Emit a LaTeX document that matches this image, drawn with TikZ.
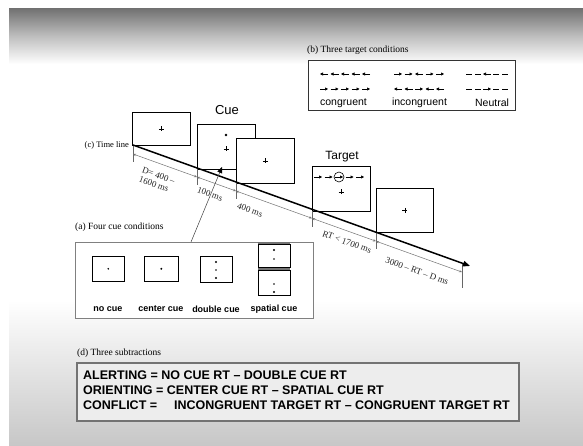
\documentclass[tikz,border=0pt]{standalone}
\usepackage{fontspec}
\setmainfont{Liberation Serif}
\newfontfamily\arialf{Liberation Sans}
\usetikzlibrary{arrows.meta}
\begin{document}
\begin{tikzpicture}[x=1pt,y=-1pt,
  frame/.style={draw=black,line width=0.6pt,fill=white,inner sep=0pt,anchor=north west},
  pl/.style={line width=0.5pt},
  dimline/.style={draw=black!55,line width=0.5pt,{Stealth[length=3pt,width=2.4pt]}-{Stealth[length=3pt,width=2.4pt]}},
  tickline/.style={draw=black!60,line width=0.5pt},
  dimlab/.style={font=\fontsize{9}{9.5}\selectfont,rotate=-19.75,text=black!85,align=left,inner sep=0pt},
  capt/.style={font=\fontsize{9.5}{10}\selectfont,anchor=west,inner sep=0pt},
  stim/.style={line width=0.6pt,-{Triangle[length=3pt,width=3pt]}},
  condlab/.style={font=\arialf\bfseries\fontsize{9}{10}\selectfont,inner sep=0pt},
  tgtlab/.style={font=\arialf\fontsize{10.5}{12}\selectfont,inner sep=0pt},
  subline/.style={font=\arialf\bfseries\fontsize{12.5}{14}\selectfont,anchor=west,inner sep=0pt},
  bigl/.style={font=\arialf\fontsize{13}{14}\selectfont,inner sep=0pt}]
\useasboundingbox (0,0) rectangle (583,446);
% background
\fill[white] (0,0) rectangle (583,446);
\shade[top color=black!55, bottom color=white, middle color=black!25] (9,9) rectangle (583,64);
\shade[top color=white, bottom color=black!22] (9,300) rectangle (583,446);

% (b) three target conditions
\node[capt] (capb) at (307,50) {(b) Three target conditions};
\node[draw=black!80,line width=0.6pt,fill=white,inner sep=0pt,anchor=north west,
      minimum width=207pt,minimum height=50pt] (boxb) at (308,60) {};
% congruent
\foreach \x in {324,334.5,345,355.5,366}{
  \draw[stim] ({\x+4},74) -- ({\x-4},74);
  \draw[stim] ({\x-4},89) -- ({\x+4},89);}
% incongruent
\foreach \x/\d in {398/1,408.5/1,419/-1,429.5/1,440/1}{
  \draw[stim] ({\x-4*\d},74) -- ({\x+4*\d},74);
  \draw[stim] ({\x+4*\d},89) -- ({\x-4*\d},89);}
% neutral
\foreach \x in {469,478,496,505}{
  \draw[line width=0.6pt] ({\x-3},74) -- ({\x+3},74);
  \draw[line width=0.6pt] ({\x-3},89) -- ({\x+3},89);}
\draw[stim] (491,74) -- (483,74);
\draw[stim] (483,89) -- (491,89);
\node[tgtlab] (lcon) at (343.5,103) {congruent};
\node[tgtlab] (linc) at (419.5,103) {incongruent};
\node[tgtlab] (lneu) at (492,103) {Neutral};

% time line frames
\node[frame,minimum width=58pt,minimum height=33pt] (f1) at (132,112) {};
\draw[pl] (f1.center) +(-2.5,0) -- +(2.5,0) +(0,-2.5) -- +(0,2.5);
\node[frame,minimum width=58pt,minimum height=45pt] (cue) at (197,124) {};
\fill (226,135) circle (1.4);
\draw[pl] (226,149) +(-2.5,0) -- +(2.5,0) +(0,-2.5) -- +(0,2.5);
\node[frame,minimum width=58pt,minimum height=45pt] (f3) at (236,138) {};
\draw[pl] (f3.center) +(-2.5,0) -- +(2.5,0) +(0,-2.5) -- +(0,2.5);
\node[frame,minimum width=58pt,minimum height=45pt] (tgt) at (312,166) {};
\draw[pl] (341,192) +(-2.5,0) -- +(2.5,0) +(0,-2.5) -- +(0,2.5);
\draw[line width=0.6pt] (339,177) circle (5);
\foreach \x in {318,328.5,339,349.5,360}{
  \draw[stim] ({\x-4},177) -- ({\x+4},177);}
\node[frame,minimum width=57pt,minimum height=44pt] (f5) at (376,188) {};
\draw[pl] (f5.center) +(-2.5,0) -- +(2.5,0) +(0,-2.5) -- +(0,2.5);

\node[bigl] (cuelab) at (227,110) {Cue};
\node[bigl,font=\arialf\fontsize{12}{14}\selectfont] (tgtl) at (342,157) {Target};

% ticks and dimension lines
\coordinate (d0) at (133,154);
\coordinate (d1) at (197,177);
\coordinate (d2) at (236,191);
\coordinate (d3) at (312,218.3);
\coordinate (d4) at (376,241.2);
\coordinate (d5) at (462,272.1);
\draw[tickline] (133,145) -- (133,162);
\draw[tickline] (197,169) -- (197,185);
\draw[tickline] (236,183) -- (236,199);
\draw[tickline] (312,211) -- (312,227);
\draw[tickline] (376,232) -- (376,249);
\draw[tickline] (462,263) -- (462,288);
\draw[dimline] (d0) -- (d1);
\draw[dimline] (d1) -- (d2);
\draw[dimline] (d2) -- (d3);
\draw[dimline] (d3) -- (d4);
\draw[dimline] (d4) -- (d5);

% main time line
\coordinate (t0) at (133,145);
\coordinate (t1) at (470,266);
\draw[line width=1.5pt,-{Triangle[length=7pt,width=5.5pt]}] (t0) -- (t1);
\node[capt,anchor=east,font=\fontsize{8.5}{10}\selectfont] (capc) at (129,145) {(c) Time line};

\node[dimlab] (dl1) at (157,180) {D= 400 –\\1600 ms};
\node[dimlab] (dl2) at (210,194) {100 ms};
\node[dimlab] (dl3) at (250,210) {400 ms};
\node[dimlab] (dl4) at (347,242) {RT < 1700 ms};
\node[dimlab] (dl5) at (417,271) {3000 – RT – D ms};

% (a) four cue conditions
\node[capt] (capa) at (75,227) {(a) Four cue conditions};
\node[draw=black!50,line width=1.3pt,fill=white,inner sep=0pt,anchor=north west,
      minimum width=238pt,minimum height=76pt] (boxa) at (75,242) {};
\node[frame,minimum width=32pt,minimum height=25pt] (nocue) at (92,256) {};
\fill (nocue.center) circle (0.9);
\node[frame,minimum width=34pt,minimum height=25pt] (ccue) at (144,256) {};
\fill (ccue.center) circle (1.1);
\node[frame,minimum width=32pt,minimum height=26pt] (dcue) at (200,256) {};
\fill (216,262) circle (1.2);
\fill (216,270) circle (0.9);
\fill (216,278) circle (1.2);
\fill[black!55] (258,242) rectangle (290,271);
\node[frame,minimum width=32pt,minimum height=23pt] (scue1) at (258,244) {};
\fill (274,250) circle (1.2);
\fill (274,259) circle (0.9);
\node[frame,minimum width=32pt,minimum height=25pt] (scue2) at (258,270) {};
\fill (274,284) circle (0.9);
\fill (274,292) circle (1.2);
\node[condlab] (l1) at (108,309) {no cue};
\node[condlab] (l2) at (161,309) {center cue};
\node[condlab] (l3) at (216,309) {double cue};
\node[condlab] (l4) at (274,309) {spatial cue};

% cue arrow
\coordinate (ca0) at (191,242);
\coordinate (ca1) at (222,167);
\draw[line width=0.5pt,black!75,-{Triangle[length=6pt,width=5pt,color=black]}] (ca0) -- (ca1);

% (d) three subtractions
\node[capt] (capd) at (77,353) {(d) Three subtractions};
\node[draw=black!55,line width=1.5pt,fill=black!7,inner sep=0pt,anchor=north west,
      minimum width=442pt,minimum height=58pt] (boxd) at (76,362) {};
\node[subline] (s1) at (83,375) {ALERTING = NO CUE RT – DOUBLE CUE RT};
\node[subline] (s2) at (83,390) {ORIENTING = CENTER CUE RT – SPATIAL CUE RT};
\node[subline] (s3) at (83,405) {CONFLICT =};
\node[subline] (s3b) at (174,405) {INCONGRUENT TARGET RT – CONGRUENT TARGET RT};
\end{tikzpicture}
\end{document}
